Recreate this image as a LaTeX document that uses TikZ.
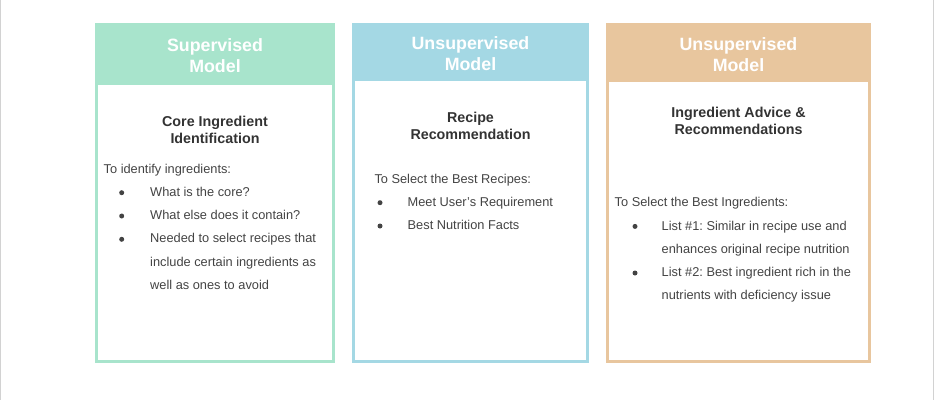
\documentclass[tikz,border=0pt]{standalone}
\usepackage{fontspec}
\setmainfont{Liberation Sans}
\frenchspacing

\definecolor{mintH}{HTML}{A8E4CC}
\definecolor{skyH}{HTML}{A4D8E4}
\definecolor{tanH}{HTML}{E8C69E}
\definecolor{bodytxt}{HTML}{434343}
\definecolor{titletxt}{HTML}{333333}
\definecolor{edgegray}{HTML}{D2D2D2}

\begin{document}
\begin{tikzpicture}[x=1pt,y=-1pt,
  hd/.style={text=white,font=\fontsize{17.8}{21}\selectfont\bfseries,align=center},
  ttl/.style={text=titletxt,font=\fontsize{14.3}{17}\selectfont\bfseries,align=center},
  txt/.style={text=bodytxt,font=\fontsize{12.8}{15}\selectfont\frenchspacing,anchor=base west,inner sep=0pt}]
\useasboundingbox (0,0) rectangle (935,400);
\draw[edgegray,line width=1pt] (0.5,0) -- (0.5,400) (933.5,0) -- (933.5,400);

% the three model panels
\foreach \nm/\xa/\xb/\hb/\col/\lab/\ty in {%
  sup/95/335/85/mintH/Supervised/55.3,
  rec/352/589/81/skyH/Unsupervised/53.5,
  adv/606/871/82/tanH/Unsupervised/54.2} {
  \fill[\col] (\xa,23) rectangle (\xb,\hb);
  \draw[\col,line width=3pt] (\xa+1.5,24.5) rectangle (\xb-1.5,361.5);
  \node[hd] (\nm-head) at ({(\xa+\xb)/2},\ty) {\lab\\Model};
}

\node[ttl] (sup-title) at (215,130.1) {Core Ingredient\\Identification};
\node[ttl] (rec-title) at (470.5,125.7) {Recipe\\Recommendation};
\node[ttl] (adv-title) at (738.5,121.2) {Ingredient Advice \&\\Recommendations};

% body lists
\node[txt] (sup-intro) at (103.5,173) {To identify ingredients:};
\foreach \t/\bul [count=\i] in {What is the core?/1, What else does it contain?/1,
  Needed to select recipes that/1, include certain ingredients as/0, well as ones to avoid/0} {
  \node[txt] (sup-l\i) at (150,173+\i*23.3) {\t};
  \ifnum\bul=1 \fill[bodytxt] (121.7,169.4+\i*23.3) circle (2.5pt); \fi
}

\node[txt] (rec-intro) at (374.3,183) {To Select the Best Recipes:};
\foreach \t [count=\i] in {Meet User's Requirement, Best Nutrition Facts} {
  \node[txt] (rec-l\i) at (407.5,183+\i*23.3) {\t};
  \fill[bodytxt] (380,179.4+\i*23.3) circle (2.5pt);
}

\node[txt] (adv-intro) at (614.5,206.7) {To Select the Best Ingredients:};
\foreach \t/\bul [count=\i] in {List \#1: Similar in recipe use and/1, enhances original recipe nutrition/0,
  List \#2: Best ingredient rich in the/1, nutrients with deficiency issue/0} {
  \node[txt] (adv-l\i) at (661.5,206.7+\i*23.3) {\t};
  \ifnum\bul=1 \fill[bodytxt] (635,203.1+\i*23.3) circle (2.5pt); \fi
}
\end{tikzpicture}
\end{document}
